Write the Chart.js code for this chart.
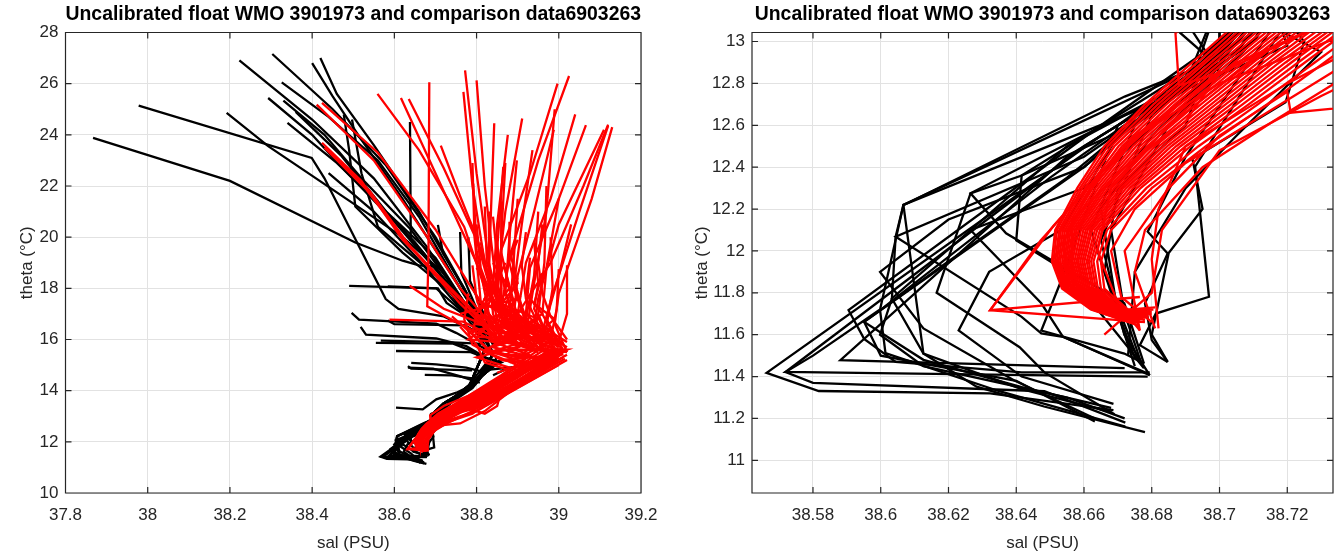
<!DOCTYPE html>
<html>
<head>
<meta charset="utf-8">
<script src="https://cdn.jsdelivr.net/npm/chart.js@4.4.1/dist/chart.umd.min.js"></script>
<style>
  html, body { margin: 0; padding: 0; background: #fff; }
  #wrap { position: relative; width: 1343px; height: 554px; overflow: hidden; }
  .panel { position: absolute; top: 0; height: 554px; }
  #leftBox { left: 0; width: 690px; }
  #rightBox { left: 690px; width: 653px; }
</style>
</head>
<body>
<div id="wrap">
  <div class="panel" id="leftBox"><canvas id="leftChart" width="690" height="554"></canvas></div>
  <div class="panel" id="rightBox"><canvas id="rightChart" width="653" height="554"></canvas></div>
</div>
<script>
const titleText = 'Uncalibrated float WMO 3901973 and comparison data6903263';
const xLabel = 'sal (PSU)';
const yLabel = 'theta (°C)';

const salTicksLeft = [37.8, 38, 38.2, 38.4, 38.6, 38.8, 39, 39.2];
const thetaTicksLeft = [10, 12, 14, 16, 18, 20, 22, 24, 26, 28];
const salTicksRight = [38.58, 38.6, 38.62, 38.64, 38.66, 38.68, 38.7, 38.72];
const thetaTicksRight = [11, 11.2, 11.4, 11.6, 11.8, 12, 12.2, 12.4, 12.6, 12.8, 13];

// float profiles, warm upper part: [sal, theta]
const floatUpper = [
  [[37.867,23.88],[38.2,22.2],[38.505,19.79],[38.62,19.08],[38.66,18.9],[38.70,18.85],[38.75,17.5],[38.80,16.5],[38.83,15.7]],
  [[37.978,25.14],[38.399,23.10],[38.43,22.3],[38.579,17.58],[38.61,17.2],[38.72,16.9],[38.80,16.3],[38.83,15.5]],
  [[38.192,24.86],[38.293,23.56],[38.497,21.35],[38.62,20.0],[38.72,18.6],[38.79,17.0],[38.83,15.9]],
  [[38.223,26.91],[38.40,24.6],[38.55,22.3],[38.68,19.6],[38.77,17.4],[38.82,16.0]],
  [[38.303,27.16],[38.45,25.0],[38.58,22.8],[38.70,20.0],[38.78,17.7],[38.84,15.8]],
  [[38.40,26.8],[38.45,25.5],[38.52,23.8],[38.62,21.5],[38.72,19.0],[38.80,17.0],[38.85,15.6]],
  [[38.42,27.0],[38.46,25.6],[38.55,23.6],[38.66,21.0],[38.75,18.5],[38.82,16.5]],
  [[38.326,26.05],[38.44,24.7],[38.56,23.0],[38.66,20.8],[38.76,18.0],[38.83,16.2]],
  [[38.293,25.44],[38.40,24.0],[38.48,22.6],[38.60,20.6],[38.74,18.0],[38.82,16.0]],
  [[38.33,25.34],[38.43,24.0],[38.52,22.3],[38.64,20.3],[38.75,17.9],[38.81,16.6]],
  [[38.34,24.47],[38.46,22.9],[38.55,21.5],[38.65,19.8],[38.76,17.6],[38.84,15.9]],
  [[38.477,24.79],[38.49,23.4],[38.505,21.2],[38.62,19.4],[38.74,17.8],[38.82,16.2]],
  [[38.497,24.6],[38.52,22.5],[38.56,20.4],[38.70,18.5],[38.80,16.6]],
  [[38.638,24.5],[38.64,19.9],[38.67,19.4],[38.76,17.6],[38.83,15.8]],
  [[38.706,20.48],[38.718,19.38],[38.77,18.0],[38.82,16.4]],
  [[38.76,20.2],[38.763,18.6],[38.80,17.2],[38.84,15.9]],
  [[38.78,20.0],[38.784,18.3],[38.83,16.5]],
  [[38.49,18.1],[38.702,18.0],[38.75,17.3],[38.825,16.26]],
  [[38.584,18.08],[38.706,18.0],[38.727,17.43],[38.80,16.65]],
  [[38.496,17.04],[38.514,16.78],[38.702,16.62],[38.75,16.26],[38.825,15.6]],
  [[38.518,16.49],[38.531,16.19],[38.702,16.04],[38.775,15.74],[38.83,15.22]],
  [[38.555,15.87],[38.743,15.84],[38.80,15.48]],
  [[38.604,15.55],[38.784,15.51],[38.833,15.22]],
  [[38.641,15.09],[38.702,15.03],[38.775,14.9],[38.825,14.7]],
  [[38.633,14.9],[38.694,14.86],[38.759,14.57],[38.808,14.31]],
  [[38.604,13.34],[38.669,13.27],[38.702,13.66],[38.751,13.92],[38.80,14.31]],
  [[38.567,15.96],[38.731,15.9],[38.814,15.83]],
  [[38.584,16.74],[38.60,16.6],[38.772,16.55],[38.822,16.09]],
  [[38.674,14.62],[38.74,14.6],[38.793,14.47]],
  [[38.633,14.96],[38.641,14.86],[38.789,14.79]],
  [[38.36,24.9],[38.47,23.2],[38.58,21.0],[38.70,19.2],[38.78,17.2],[38.84,15.5]],
  [[38.44,22.5],[38.55,21.0],[38.66,19.1],[38.75,17.4],[38.82,15.9]],
  [[38.80,15.4],[38.86,15.1],[38.82,14.8],[38.88,14.9],[38.84,14.6]]
];

// float profiles, cold deep part: [sal, theta]
const floatDeep = [
  [[38.84,15.5],[38.82,14.7],[38.77,14.05],[38.73,13.45],[38.705,12.95],[38.672,12.737],[38.6067,12.219],[38.6126,11.51],[38.6283,11.352],[38.6482,11.257],[38.678,11.135]],
  [[38.86,15.2],[38.80,14.4],[38.75,13.8],[38.72,13.3],[38.70,12.9],[38.665,12.55],[38.5663,11.418],[38.5817,11.331],[38.6323,11.32],[38.6687,11.24]],
  [[38.83,15.0],[38.79,14.25],[38.74,13.6],[38.715,13.2],[38.695,12.85],[38.66,12.5],[38.5719,11.422],[38.6044,11.415],[38.6788,11.40]],
  [[38.82,15.6],[38.78,14.1],[38.72,13.5],[38.70,13.2],[38.69,12.8],[38.655,12.45],[38.5881,11.478],[38.672,11.44]],
  [[38.84,15.5],[38.82,14.7],[38.77,14.05],[38.73,13.45],[38.70,12.95],[38.66,12.4],[38.5951,11.661],[38.60,11.5],[38.64,11.38],[38.6632,11.185]],
  [[38.86,15.2],[38.80,14.4],[38.75,13.8],[38.72,13.3],[38.685,12.75],[38.65,12.35],[38.5998,11.717],[38.6014,11.512],[38.635,11.33],[38.6722,11.161]],
  [[38.83,15.0],[38.79,14.25],[38.74,13.6],[38.715,13.2],[38.69,12.8],[38.6265,12.275],[38.637,12.084],[38.6719,11.75],[38.6777,11.462]],
  [[38.82,15.6],[38.78,14.1],[38.72,13.5],[38.70,13.2],[38.692,12.82],[38.655,12.5],[38.6033,11.773],[38.6126,11.51],[38.6416,11.34],[38.668,11.23]],
  [[38.84,15.5],[38.82,14.7],[38.77,14.05],[38.73,13.45],[38.70,12.9],[38.66,12.45],[38.6044,12.068],[38.6416,11.685],[38.6474,11.606],[38.6538,11.59],[38.6794,11.406]],
  [[38.86,15.2],[38.80,14.4],[38.75,13.8],[38.72,13.3],[38.695,12.9],[38.66,12.4],[38.62,12.15],[38.5998,11.90],[38.6126,11.63],[38.6393,11.382],[38.6632,11.2]],
  [[38.83,15.0],[38.79,14.25],[38.74,13.6],[38.715,13.2],[38.70,12.95],[38.67,12.6],[38.6533,11.86],[38.6474,11.62],[38.6719,11.51],[38.6777,11.462]],
  [[38.82,15.6],[38.78,14.1],[38.72,13.5],[38.70,13.2],[38.70,12.95],[38.675,12.6],[38.662,12.1],[38.668,11.8],[38.6747,11.5],[38.6777,11.44]],
  [[38.84,15.5],[38.82,14.7],[38.77,14.05],[38.73,13.45],[38.705,13.0],[38.68,12.65],[38.665,12.05],[38.6719,11.6],[38.6794,11.406]],
  [[38.86,15.2],[38.80,14.4],[38.75,13.8],[38.72,13.3],[38.71,13.0],[38.685,12.6],[38.668,12.1],[38.672,11.7],[38.677,11.46]],
  [[38.83,15.0],[38.79,14.25],[38.74,13.6],[38.715,13.2],[38.72,13.1],[38.6928,12.402],[38.6969,11.781],[38.6812,11.701],[38.6765,11.55],[38.6847,11.47]],
  [[38.82,15.6],[38.78,14.1],[38.72,13.5],[38.70,13.2],[38.715,13.05],[38.69,12.45],[38.6788,12.092],[38.6847,11.988],[38.678,11.75],[38.68,11.574],[38.6847,11.47]],
  [[38.84,15.5],[38.82,14.7],[38.77,14.05],[38.73,13.45],[38.70,13.2],[38.6885,13.04],[38.697,12.92],[38.69,12.6],[38.67,12.3],[38.666,11.9],[38.676,11.48]],
  [[38.86,15.2],[38.80,14.4],[38.75,13.8],[38.72,13.3],[38.69,13.1],[38.696,12.95],[38.70,12.85],[38.68,12.55],[38.665,12.2],[38.67,11.7],[38.675,11.45]],
  [[38.83,15.0],[38.79,14.25],[38.74,13.6],[38.715,13.2],[38.72,12.98],[38.68,12.7],[38.6067,12.22],[38.5998,11.72],[38.58,11.5],[38.5719,11.422],[38.58,11.37],[38.6483,11.33],[38.6722,11.18]],
  [[38.82,15.6],[38.78,14.1],[38.72,13.5],[38.70,13.2],[38.70,12.95],[38.655,12.35],[38.6165,11.91],[38.5951,11.661],[38.6126,11.48],[38.6416,11.35],[38.668,11.25]],
  [[38.84,15.5],[38.82,14.7],[38.77,14.05],[38.73,13.45],[38.71,13.0],[38.675,12.6],[38.6416,12.36],[38.64,12.05],[38.655,11.9],[38.6765,11.47]],
  [[38.86,15.2],[38.80,14.4],[38.75,13.8],[38.72,13.3],[38.705,12.95],[38.66,12.3],[38.6265,12.1],[38.6474,11.75],[38.6538,11.59],[38.678,11.42]],
  [[38.83,15.0],[38.79,14.25],[38.74,13.6],[38.715,13.2],[38.725,13.0],[38.7195,12.71],[38.692,12.44],[38.695,12.2],[38.685,11.99],[38.68,11.6],[38.6847,11.47]],
  [[38.82,15.6],[38.78,14.1],[38.72,13.5],[38.70,13.2],[38.73,12.95],[38.705,12.55],[38.69,12.3],[38.675,11.9],[38.673,11.5]],
  [[38.84,15.4],[38.79,14.2],[38.72,13.3],[38.69,12.85],[38.6067,12.22],[38.6044,12.068],[38.6033,11.773],[38.5998,11.60],[38.6126,11.45],[38.655,11.3],[38.672,11.2]],
  [[38.85,15.3],[38.80,14.3],[38.72,13.3],[38.70,12.95],[38.6416,12.36],[38.6265,12.275],[38.6165,11.8],[38.641,11.54],[38.6483,11.42],[38.669,11.22]],
  [[38.83,15.2],[38.78,14.2],[38.73,13.45],[38.70,13.0],[38.665,12.6],[38.5905,11.717],[38.5951,11.58],[38.6044,11.47],[38.6416,11.42],[38.6794,11.42]],
  [[38.84,15.1],[38.79,14.1],[38.73,13.45],[38.71,13.0],[38.67,12.55],[38.6533,12.1],[38.632,11.9],[38.623,11.62],[38.6416,11.40],[38.6687,11.27]]
];

// comparison profiles, warm upper part: [sal, theta]
const refUpper = [
  [[38.772,26.52],[38.80,22.5],[38.83,19.0],[38.86,17.0],[38.90,15.8]],
  [[38.80,26.13],[38.82,22.0],[38.845,18.5],[38.88,16.2]],
  [[38.768,25.68],[38.79,22.0],[38.82,19.0],[38.85,16.8],[38.93,15.6]],
  [[38.685,26.06],[38.683,19.3],[38.68,17.3],[38.76,16.6],[38.86,15.8]],
  [[38.616,25.44],[38.70,22.5],[38.80,19.0],[38.84,17.4],[38.90,16.0]],
  [[38.713,23.58],[38.76,21.6],[38.80,20.0],[38.85,17.5],[38.95,15.7]],
  [[38.843,24.45],[38.835,21.0],[38.83,18.5],[38.87,16.4]],
  [[38.876,24.0],[38.85,20.5],[38.84,18.0],[38.92,16.0]],
  [[38.911,24.64],[38.87,21.0],[38.85,18.2],[38.88,16.5],[38.97,15.7]],
  [[38.997,26.0],[38.93,22.5],[38.86,19.5],[38.85,17.5],[38.95,16.0]],
  [[39.025,26.3],[38.95,23.0],[38.88,19.2],[38.86,17.2],[38.99,15.9]],
  [[39.04,24.8],[38.98,21.5],[38.92,19.0],[38.90,17.0],[39.0,15.7]],
  [[39.066,24.38],[39.0,21.5],[38.93,18.8],[38.92,17.0],[39.01,15.6]],
  [[39.12,24.35],[39.05,21.0],[38.98,17.5],[38.96,16.3]],
  [[39.13,24.3],[39.08,21.5],[39.0,17.8],[38.99,16.6],[39.02,15.5]],
  [[39.11,24.2],[39.0,20.5],[38.95,17.6],[38.94,16.5]],
  [[39.12,24.4],[39.06,22.0],[38.98,19.0],[38.90,17.0],[38.88,16.0]],
  [[38.99,25.0],[38.97,21.0],[38.94,18.2],[38.92,16.2]],
  [[38.79,22.9],[38.795,20.0],[38.81,17.5],[38.86,16.0]],
  [[38.87,22.9],[38.86,20.0],[38.86,17.5],[38.90,15.8]],
  [[38.97,22.0],[38.965,19.0],[38.95,17.0],[38.98,15.8]],
  [[39.02,18.9],[39.02,17.0],[39.0,15.9]],
  [[39.0,18.75],[38.995,17.2],[38.98,16.0]],
  [[38.411,25.18],[38.55,23.0],[38.68,20.0],[38.76,18.0],[38.84,16.5],[38.95,15.7]],
  [[38.424,25.25],[38.56,23.3],[38.70,20.3],[38.78,18.2],[38.86,16.3]],
  [[38.424,23.69],[38.52,22.2],[38.62,19.9],[38.75,17.8],[38.85,16.2]],
  [[38.43,23.5],[38.53,21.9],[38.63,19.8],[38.74,17.9],[38.86,15.9]],
  [[38.44,23.4],[38.54,21.8],[38.64,19.6],[38.76,17.4],[38.87,15.7]],
  [[38.559,25.6],[38.66,23.4],[38.77,20.4],[38.82,18.0],[38.88,16.3]],
  [[38.635,25.4],[38.72,22.7],[38.80,19.9],[38.84,17.6],[38.9,16.2]],
  [[38.588,16.78],[38.767,16.7],[38.83,16.2],[38.92,15.7]],
  [[38.637,18.1],[38.72,17.2],[38.80,16.7],[38.9,16.0]],
  [[38.988,24.2],[38.94,21.0],[38.90,18.5],[38.89,16.8]],
  [[38.936,23.4],[38.91,20.5],[38.89,18.0],[38.93,16.3]],
  [[38.898,23.0],[38.88,20.0],[38.87,17.8],[38.91,16.4]],
  [[38.865,22.75],[38.85,19.5],[38.85,17.2],[38.89,15.9]],
  [[38.792,22.1],[38.80,19.5],[38.83,17.0],[38.9,15.7]],
  [[38.95,21.0],[38.94,18.5],[38.92,16.8],[38.96,15.6]],
  [[39.0,21.5],[38.97,18.8],[38.96,17.0],[39.0,15.8]],
  [[38.90,21.5],[38.89,19.0],[38.88,17.0],[38.94,15.9]],
  [[38.83,21.0],[38.83,18.8],[38.84,17.0],[38.87,15.8]],
  [[39.03,20.5],[39.0,18.5],[38.97,16.8],[39.01,15.6]],
  [[38.98,20.0],[38.985,18.0],[38.97,16.5],[38.99,15.5]],
  [[38.80,17.5],[38.95,16.5],[38.84,16.0],[39.0,15.4],[38.86,15.2],[38.98,15.0]],
  [[38.82,16.9],[38.98,16.2],[38.85,15.6],[39.02,15.6],[38.9,14.9]],
  [[38.78,16.3],[38.92,16.8],[38.82,15.5],[38.96,15.3],[38.85,14.7]],
  [[38.76,17.0],[38.90,17.6],[38.80,16.1],[38.99,16.0],[38.88,15.1]],
  [[38.84,19.0],[38.88,18.0],[38.84,17.2],[38.92,16.6],[38.86,16.0],[38.98,15.6]],
  [[38.86,18.6],[38.82,17.6],[38.90,17.0],[38.84,16.4],[38.96,16.0],[38.90,15.3]],
  [[38.88,19.5],[38.90,18.2],[38.86,17.4],[38.95,16.8],[38.88,16.2],[39.0,15.8]],
  [[38.82,18.2],[38.86,17.0],[38.80,16.6],[38.94,16.3],[38.84,15.7],[38.96,15.2]],
  [[38.93,19.2],[38.92,17.8],[38.96,17.0],[38.90,16.4],[39.01,15.9]],
  [[38.80,18.8],[38.84,17.8],[38.80,17.0],[38.90,16.2],[38.82,15.6],[38.94,15.0]],
  [[38.96,18.6],[38.94,17.4],[38.99,16.8],[38.93,16.0],[39.02,15.5]],
  [[38.85,16.8],[38.78,16.0],[38.92,15.8],[38.80,15.3],[38.90,14.8]],
  [[38.90,18.4],[38.85,16.6],[38.98,16.4],[38.87,15.4],[38.99,15.2]],
  [[38.80,20.5],[38.81,18.8],[38.84,17.5],[38.88,16.4],[38.96,15.6]],
  [[38.82,21.2],[38.825,19.0],[38.85,17.8],[38.87,16.8],[38.94,15.9]],
  [[38.84,20.8],[38.85,19.2],[38.87,17.9],[38.89,16.7],[38.99,15.7]],
  [[38.86,21.4],[38.86,19.4],[38.88,18.0],[38.9,16.9],[39.0,16.0]],
  [[38.88,20.6],[38.88,19.0],[38.9,17.7],[38.92,16.6],[39.01,15.8]],
  [[38.92,20.2],[38.91,18.9],[38.92,17.6],[38.95,16.6],[39.02,15.9]],
  [[38.81,19.8],[38.83,18.3],[38.82,17.0],[38.86,16.1],[38.97,15.5]],
  [[38.85,19.8],[38.86,18.5],[38.86,17.3],[38.91,16.3],[38.99,15.6]],
  [[38.89,19.6],[38.89,18.4],[38.91,17.3],[38.93,16.4],[39.0,15.7]],
  [[38.94,19.8],[38.95,18.2],[38.94,17.2],[38.97,16.2],[39.02,15.7]],
  [[38.79,18.9],[38.80,17.6],[38.82,16.6],[38.84,15.9],[38.93,15.4]],
  [[38.83,17.9],[38.80,17.0],[38.79,16.2],[38.83,15.6],[38.92,15.2]],
  [[38.87,19.0],[38.84,17.9],[38.82,16.9],[38.85,16.1],[38.95,15.5]],
  [[38.9,19.9],[38.87,18.7],[38.89,17.5],[38.88,16.5],[38.96,15.8]],
  [[38.96,20.5],[38.95,19.0],[38.96,17.8],[38.98,16.9],[39.02,16.0]],
  [[38.78,17.8],[38.77,16.8],[38.79,15.8],[38.86,15.2],[38.94,15.0]],
  [[38.76,16.5],[38.80,15.8],[38.82,15.1],[38.88,14.8]],
  [[38.74,16.9],[38.79,16.2],[38.84,15.4],[38.9,15.0]]
];

// comparison profiles, cold deep part: [sal, theta]
const refDeep = [
  [[38.97,15.8],[38.86,14.6],[38.76,13.6],[38.706,13.1],[38.692,12.9],[38.678,12.7],[38.666,12.5],[38.658,12.3],[38.6515,12.1],[38.6505,11.95],[38.6535,11.82],[38.662,11.72],[38.676,11.645]],
  [[38.98,15.75],[38.865,14.58],[38.762,13.6],[38.7075,13.1],[38.6935,12.9],[38.679,12.7],[38.667,12.5],[38.6588,12.3],[38.652,12.1],[38.651,11.95],[38.654,11.82],[38.6624,11.72],[38.675,11.65]],
  [[38.99,15.7],[38.87,14.55],[38.765,13.6],[38.709,13.1],[38.695,12.9],[38.6805,12.7],[38.668,12.5],[38.6595,12.3],[38.6527,12.1],[38.6515,11.95],[38.6544,11.82],[38.6628,11.72],[38.674,11.66]],
  [[38.995,15.65],[38.875,14.52],[38.767,13.58],[38.7105,13.1],[38.696,12.9],[38.6818,12.7],[38.669,12.5],[38.6603,12.3],[38.6532,12.1],[38.652,11.95],[38.6548,11.82],[38.6632,11.72],[38.676,11.655]],
  [[39.0,15.6],[38.88,14.5],[38.77,13.55],[38.712,13.1],[38.6975,12.9],[38.683,12.7],[38.6702,12.5],[38.6611,12.3],[38.6538,12.1],[38.6525,11.95],[38.6552,11.82],[38.6635,11.72],[38.677,11.66]],
  [[39.005,15.55],[38.885,14.5],[38.772,13.52],[38.7135,13.1],[38.6988,12.9],[38.6843,12.7],[38.6712,12.5],[38.6618,12.3],[38.6544,12.1],[38.653,11.95],[38.6556,11.82],[38.6639,11.72],[38.676,11.665]],
  [[39.01,15.5],[38.89,14.5],[38.775,13.5],[38.715,13.1],[38.7002,12.9],[38.6856,12.7],[38.6723,12.5],[38.6626,12.3],[38.655,12.1],[38.6536,11.95],[38.6561,11.82],[38.6643,11.72],[38.675,11.67]],
  [[39.015,15.55],[38.895,14.55],[38.777,13.55],[38.7165,13.1],[38.7015,12.9],[38.6868,12.7],[38.6733,12.5],[38.6634,12.3],[38.6556,12.1],[38.6541,11.95],[38.6565,11.82],[38.6647,11.72],[38.6765,11.67]],
  [[39.02,15.6],[38.9,14.6],[38.78,13.6],[38.718,13.1],[38.7029,12.9],[38.6881,12.7],[38.6744,12.5],[38.6642,12.3],[38.6561,12.1],[38.6546,11.95],[38.657,11.82],[38.6651,11.72],[38.678,11.67]],
  [[39.01,15.5],[38.89,14.5],[38.782,13.55],[38.7195,13.1],[38.7043,12.9],[38.6893,12.7],[38.6754,12.5],[38.665,12.3],[38.6567,12.1],[38.6551,11.95],[38.6574,11.82],[38.6655,11.72],[38.6775,11.675]],
  [[39.0,15.4],[38.88,14.4],[38.785,13.5],[38.721,13.1],[38.7057,12.9],[38.6906,12.7],[38.6765,12.5],[38.6657,12.3],[38.6573,12.1],[38.6556,11.95],[38.6579,11.82],[38.6659,11.72],[38.677,11.68]],
  [[38.99,15.5],[38.875,14.4],[38.787,13.52],[38.7225,13.1],[38.707,12.9],[38.6918,12.7],[38.6775,12.5],[38.6664,12.3],[38.6578,12.1],[38.6561,11.95],[38.6583,11.82],[38.6662,11.72],[38.678,11.68]],
  [[38.98,15.6],[38.87,14.4],[38.79,13.55],[38.724,13.1],[38.7084,12.9],[38.6931,12.7],[38.6786,12.5],[38.6672,12.3],[38.6584,12.1],[38.6566,11.95],[38.6588,11.82],[38.6666,11.72],[38.679,11.68]],
  [[38.995,15.65],[38.885,14.45],[38.79,13.5],[38.7255,13.1],[38.71,12.9],[38.6945,12.7],[38.6798,12.5],[38.6681,12.3],[38.6591,12.1],[38.6572,11.95],[38.6593,11.82],[38.667,11.72],[38.679,11.685]],
  [[39.01,15.7],[38.9,14.5],[38.79,13.45],[38.727,13.1],[38.7115,12.9],[38.696,12.7],[38.681,12.5],[38.669,12.3],[38.6598,12.1],[38.6578,11.95],[38.6598,11.82],[38.6675,11.72],[38.679,11.69]],
  [[39.015,15.55],[38.905,14.45],[38.795,13.48],[38.729,13.1],[38.713,12.9],[38.6975,12.7],[38.6822,12.5],[38.6699,12.3],[38.6605,12.1],[38.6583,11.95],[38.6603,11.82],[38.668,11.72],[38.6785,11.69]],
  [[39.02,15.4],[38.91,14.4],[38.8,13.5],[38.731,13.1],[38.7146,12.9],[38.6989,12.7],[38.6834,12.5],[38.6708,12.3],[38.6611,12.1],[38.6589,11.95],[38.6608,11.82],[38.6684,11.72],[38.678,11.69]],
  [[39.01,15.45],[38.905,14.38],[38.8,13.45],[38.733,13.1],[38.716,12.9],[38.7004,12.7],[38.6846,12.5],[38.6716,12.3],[38.6618,12.1],[38.6595,11.95],[38.6613,11.82],[38.6688,11.72],[38.679,11.695]],
  [[39.0,15.5],[38.9,14.35],[38.8,13.4],[38.735,13.1],[38.7177,12.9],[38.7018,12.7],[38.6858,12.5],[38.6725,12.3],[38.6624,12.1],[38.6601,11.95],[38.6618,11.82],[38.6693,11.72],[38.68,11.7]],
  [[38.995,15.4],[38.895,14.32],[38.805,13.42],[38.7365,13.1],[38.7195,12.9],[38.7034,12.7],[38.6872,12.5],[38.6735,12.3],[38.6632,12.1],[38.6608,11.95],[38.6624,11.82],[38.6698,11.72],[38.6795,11.7]],
  [[38.99,15.3],[38.89,14.3],[38.81,13.45],[38.738,13.1],[38.7212,12.9],[38.705,12.7],[38.6885,12.5],[38.6745,12.3],[38.6639,12.1],[38.6614,11.95],[38.6629,11.82],[38.6703,11.72],[38.679,11.7]],
  [[39.0,15.3],[38.895,14.28],[38.815,13.48],[38.74,13.1],[38.7232,12.9],[38.7068,12.7],[38.69,12.5],[38.6756,12.3],[38.6647,12.1],[38.6621,11.95],[38.6635,11.82],[38.6709,11.72],[38.6795,11.705]],
  [[39.01,15.3],[38.9,14.25],[38.82,13.5],[38.742,13.1],[38.7252,12.9],[38.7086,12.7],[38.6915,12.5],[38.6767,12.3],[38.6655,12.1],[38.6628,11.95],[38.6641,11.82],[38.6714,11.72],[38.68,11.71]],
  [[39.015,15.25],[38.91,14.28],[38.82,13.45],[38.745,13.1],[38.7281,12.9],[38.7113,12.7],[38.6938,12.5],[38.6784,12.3],[38.6668,12.1],[38.6639,11.95],[38.665,11.82],[38.6722,11.72],[38.6805,11.72]],
  [[39.02,15.2],[38.92,14.3],[38.82,13.4],[38.748,13.1],[38.731,12.9],[38.714,12.7],[38.696,12.5],[38.68,12.3],[38.668,12.1],[38.665,11.95],[38.666,11.82],[38.673,11.72],[38.681,11.73]],
  [[38.9,14.8],[38.78,13.8],[38.72,13.4],[38.687,13.04],[38.688,12.79],[38.70,12.85],[38.69,12.62],[38.672,12.4],[38.6565,12.15],[38.6565,11.86],[38.668,11.7],[38.674,11.66]],
  [[38.95,15.0],[38.84,14.0],[38.76,13.3],[38.70,12.85],[38.672,12.5],[38.651,12.12],[38.6323,11.717],[38.6765,11.78]],
  [[38.96,15.1],[38.85,14.1],[38.77,13.35],[38.705,12.9],[38.675,12.55],[38.6472,12.05],[38.6323,11.717],[38.678,11.66]],
  [[39.0,15.2],[38.9,14.2],[38.82,13.2],[38.76,12.72],[38.721,12.66],[38.72,12.76],[38.70,12.55],[38.685,12.3],[38.672,12.0],[38.6765,11.62]],
  [[39.0,15.0],[38.9,14.1],[38.8,13.2],[38.734,12.86],[38.71,12.62],[38.69,12.42],[38.675,12.2],[38.668,12.0],[38.671,11.78],[38.68,11.66]],
  [[38.98,15.1],[38.88,14.1],[38.79,13.1],[38.734,12.80],[38.716,12.62],[38.695,12.40],[38.678,12.1],[38.675,11.9],[38.681,11.63]],
  [[38.99,15.2],[38.88,14.2],[38.79,13.2],[38.73,12.74],[38.70,12.48],[38.683,12.1],[38.68,11.8],[38.666,11.6]],
  [[38.97,15.3],[38.87,14.3],[38.78,13.3],[38.72,12.8],[38.69,12.5],[38.682,12.2],[38.68,11.96],[38.682,11.63]],
  [[38.96,15.4],[38.86,14.4],[38.77,13.4],[38.713,12.95],[38.685,12.6],[38.668,12.3],[38.664,12.0],[38.67,11.75],[38.6765,11.62]],
  [[38.96,14.9],[38.86,14.0],[38.85,13.4],[38.82,13.1],[38.78,13.3],[38.74,13.05],[38.70,12.8],[38.676,12.55],[38.662,12.3],[38.654,12.05],[38.655,11.85],[38.664,11.74],[38.672,11.7]]
];

const fontFamily = "'Liberation Sans', Arial, Helvetica, sans-serif";
const inkColor = '#262626';
const gridColor = '#e2e2e2';
const floatColor = '#000000';
const refColor = '#ff0000';

function profileSets(profiles, color, order) {
  return profiles.map(p => ({
    data: p.map(pt => ({ x: pt[0], y: pt[1] })),
    showLine: true,
    borderColor: color,
    borderWidth: 2.3,
    pointRadius: 0,
    pointHoverRadius: 0,
    fill: false,
    order: order,
    clip: 0
  }));
}

function allSets() {
  return [
    ...profileSets(refUpper, refColor, 0),
    ...profileSets(refDeep, refColor, 0),
    ...profileSets(floatUpper, floatColor, 1),
    ...profileSets(floatDeep, floatColor, 1)
  ];
}

const fmt = v => String(Number(v.toFixed(2)));

// box round the plot with inward tick marks, like the matlab axes
const axesBox = {
  id: 'axesBox',
  beforeDatasetsDraw(chart) {
    const { ctx, chartArea: a, scales: { x, y } } = chart;
    const len = 6;
    ctx.save();
    ctx.strokeStyle = inkColor;
    ctx.lineWidth = 1.2;
    ctx.beginPath();
    x.ticks.forEach(t => {
      const px = x.getPixelForValue(t.value);
      ctx.moveTo(px, a.bottom); ctx.lineTo(px, a.bottom - len);
      ctx.moveTo(px, a.top); ctx.lineTo(px, a.top + len);
    });
    y.ticks.forEach(t => {
      const py = y.getPixelForValue(t.value);
      ctx.moveTo(a.left, py); ctx.lineTo(a.left + len, py);
      ctx.moveTo(a.right, py); ctx.lineTo(a.right - len, py);
    });
    ctx.rect(a.left, a.top, a.right - a.left, a.bottom - a.top);
    ctx.stroke();
    ctx.restore();
  }
};

function makeOptions(cfg) {
  return {
    responsive: false,
    animation: false,
    events: [],
    layout: { padding: { left: 0, right: cfg.padRight, top: 0, bottom: 0 } },
    plugins: {
      legend: { display: false },
      tooltip: { enabled: false },
      title: {
        display: true,
        text: titleText,
        fullSize: false,
        color: '#000',
        font: { family: fontFamily, size: 19.4, weight: 'bold', lineHeight: 1.15 },
        padding: { top: 4, bottom: 6.2 }
      }
    },
    scales: {
      x: {
        type: 'linear',
        min: cfg.xMin,
        max: cfg.xMax,
        afterBuildTicks: s => { s.ticks = cfg.xTicks.map(v => ({ value: v })); },
        afterFit: s => { s.height = 61; },
        grid: { color: gridColor, lineWidth: 1, drawTicks: false },
        border: { display: false },
        ticks: { color: inkColor, font: { family: fontFamily, size: 17 }, padding: 12.5, maxRotation: 0, autoSkip: false, callback: fmt },
        title: { display: true, text: xLabel, color: inkColor, font: { family: fontFamily, size: 17, lineHeight: 1.2 }, padding: { top: 0, bottom: 0 } }
      },
      y: {
        type: 'linear',
        min: cfg.yMin,
        max: cfg.yMax,
        afterBuildTicks: s => { s.ticks = cfg.yTicks.map(v => ({ value: v })); },
        afterFit: s => { s.width = cfg.yWidth; },
        grid: { color: gridColor, lineWidth: 1, drawTicks: false },
        border: { display: false },
        ticks: { color: inkColor, font: { family: fontFamily, size: 17 }, padding: 7, autoSkip: false, callback: fmt },
        title: { display: true, text: yLabel, color: inkColor, font: { family: fontFamily, size: 17, lineHeight: 1.2 }, padding: { top: cfg.yTitlePad, bottom: 0 } }
      }
    }
  };
}

new Chart(document.getElementById('leftChart'), {
  type: 'scatter',
  data: { datasets: allSets() },
  options: makeOptions({
    padRight: 49, xMin: 37.8, xMax: 39.2, yMin: 10, yMax: 28,
    xTicks: salTicksLeft, yTicks: thetaTicksLeft, yWidth: 65.5, yTitlePad: 17
  }),
  plugins: [axesBox]
});

new Chart(document.getElementById('rightChart'), {
  type: 'scatter',
  data: { datasets: allSets() },
  options: makeOptions({
    padRight: 10, xMin: 38.562, xMax: 38.7335, yMin: 10.844, yMax: 13.043,
    xTicks: salTicksRight, yTicks: thetaTicksRight, yWidth: 62, yTitlePad: 2.5
  }),
  plugins: [axesBox]
});
</script>
</body>
</html>
